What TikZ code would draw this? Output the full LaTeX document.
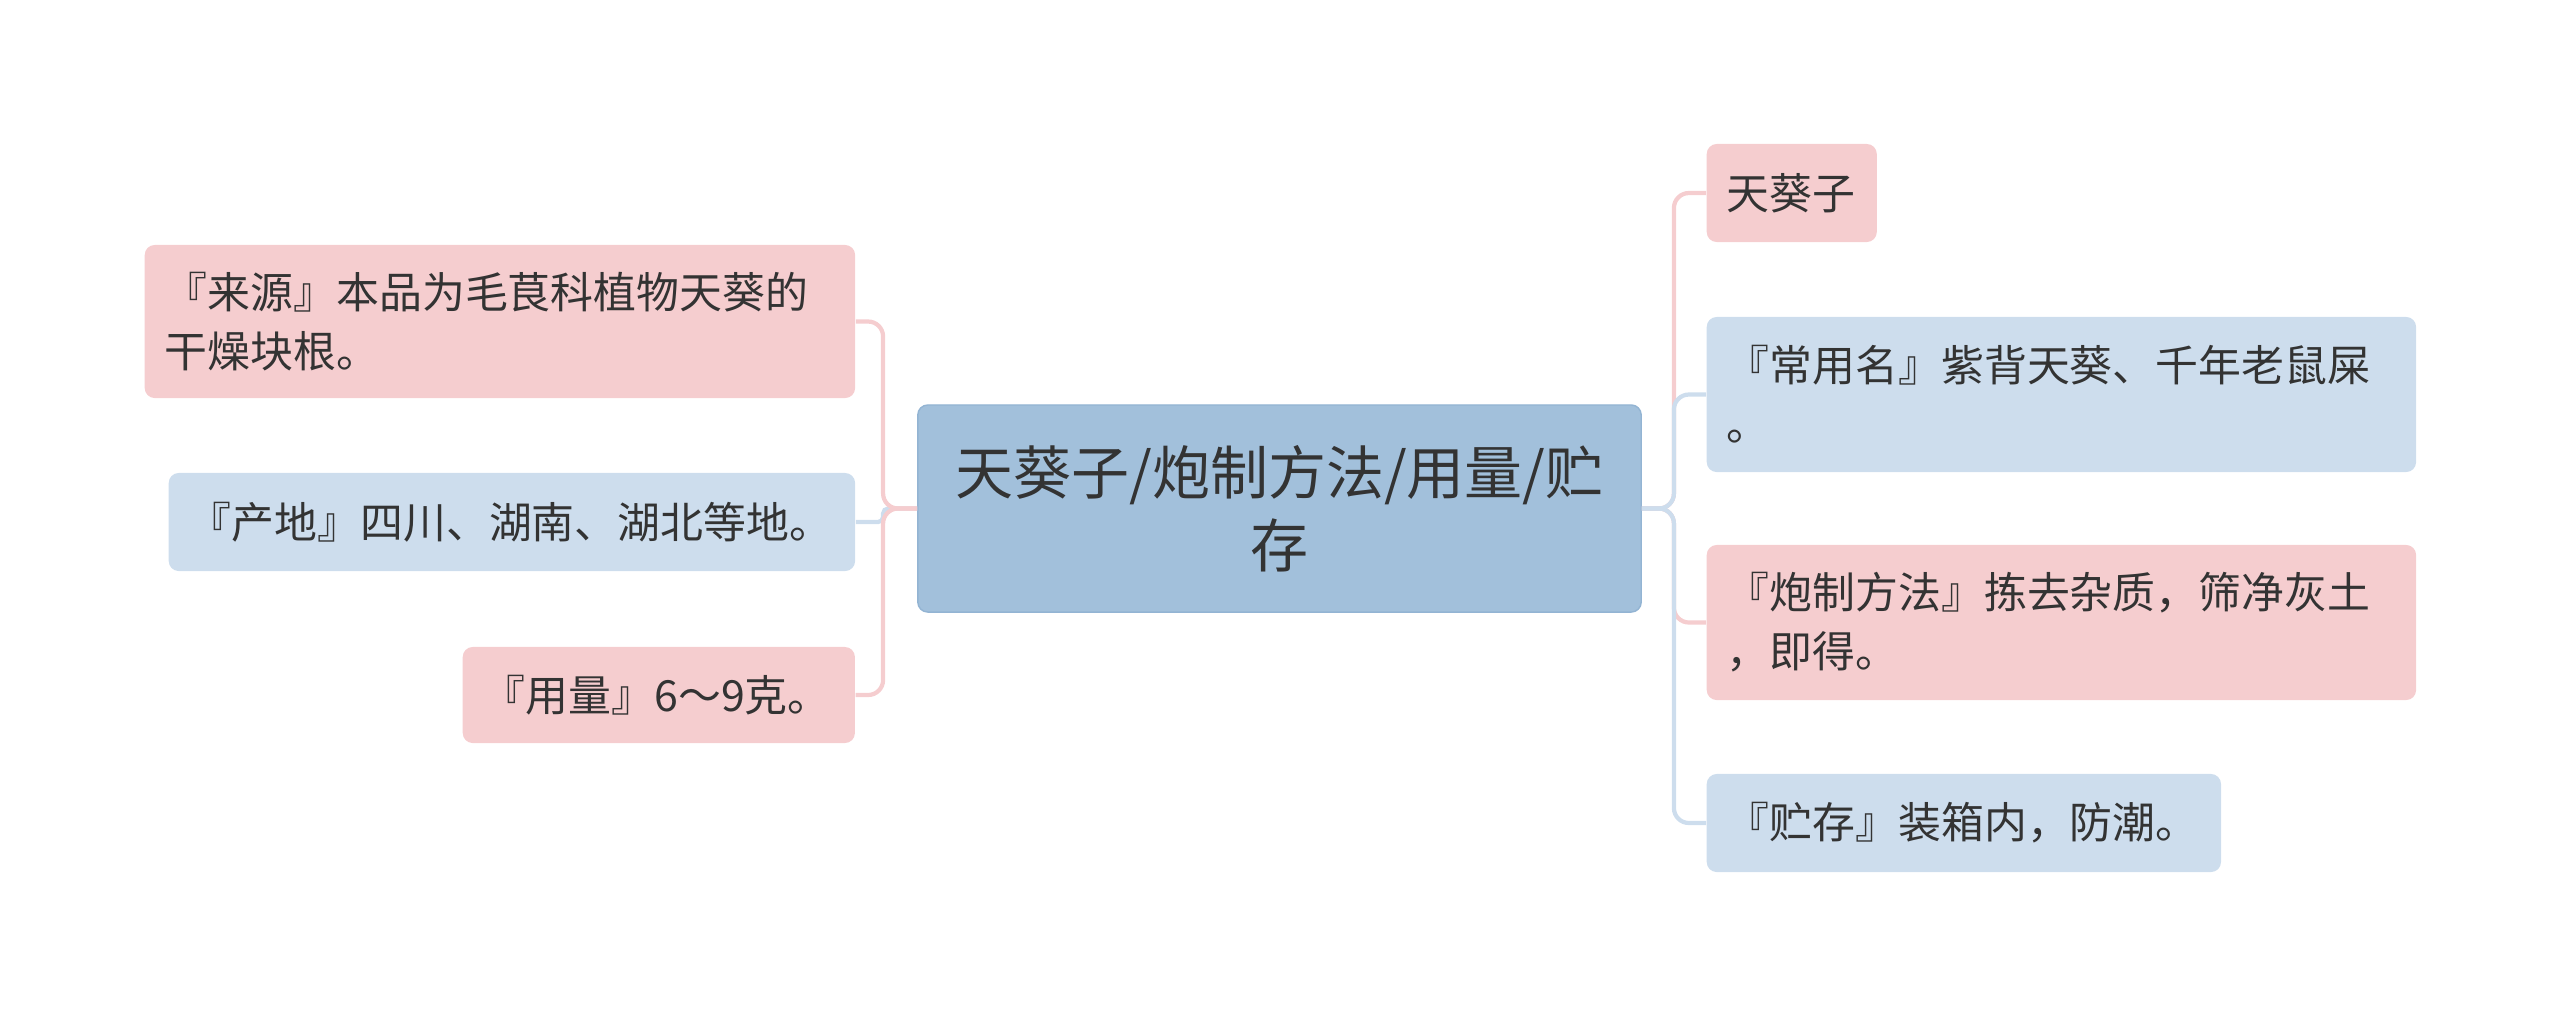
\documentclass[tikz,border=0pt]{standalone}
\usepackage{fontspec}
\setmainfont{Noto Sans CJK SC}
\usepackage{tikz}
\usetikzlibrary{positioning}
\definecolor{pinkfill}{HTML}{F5CDCF}
\definecolor{bluefill}{HTML}{CDDDED}
\definecolor{rootfill}{HTML}{A2C0DB}
\definecolor{rootdraw}{HTML}{93B4D3}
\definecolor{textgray}{HTML}{333333}

\begin{document}
\begin{tikzpicture}[
  x=0.01cm, y=-0.01cm,
  root/.style={draw=rootdraw, line width=0.4pt, fill=rootfill, rounded corners=0.1cm,
               align=center, text=textgray, inner sep=0pt,
               font=\fontsize{16.5}{20.8}\selectfont},
  leaf/.style={rounded corners=0.1cm, align=left, text=textgray,
               inner xsep=0.2cm, inner ysep=0pt, anchor=west,
               font=\fontsize{12.2}{16.8}\selectfont},
  pinkleaf/.style={leaf, fill=pinkfill},
  blueleaf/.style={leaf, fill=bluefill},
  pinkline/.style={draw=pinkfill, line width=1.2pt, rounded corners=0.15cm},
  blueline/.style={draw=bluefill, line width=1.2pt, rounded corners=0.15cm}
]
  \useasboundingbox (0,0) rectangle (2560,1017);

  \node[root, minimum width=7.23cm, minimum height=2.07cm, text width=6.9cm]
    (root) at (1279.5,508.5) {天葵子/炮制方法/用量/贮\\存};

  % left side
  \node[pinkleaf, text width=6.7cm, minimum height=1.53cm] (source) at (144,321.5)
    {『来源』本品为毛茛科植物天葵的\\干燥块根。};
  \node[blueleaf, text width=6.46cm, minimum height=0.98cm] (origin) at (168,522)
    {『产地』四川、湖南、湖北等地。};
  \node[pinkleaf, text width=3.52cm, minimum height=0.96cm] (dosage) at (462,695)
    {『用量』6～9克。};

  % right side
  \node[pinkleaf, text width=1.3cm, minimum height=0.98cm] (name) at (1706,193)
    {天葵子};
  \node[blueleaf, text width=6.69cm, minimum height=1.55cm] (alias) at (1706,394.5)
    {『常用名』紫背天葵、千年老鼠屎\\。};
  \node[pinkleaf, text width=6.69cm, minimum height=1.55cm] (process) at (1706,622.5)
    {『炮制方法』拣去杂质，筛净灰土\\，即得。};
  \node[blueleaf, text width=4.74cm, minimum height=0.98cm] (storage) at (1706,823)
    {『贮存』装箱内，防潮。};

  \begin{scope}[on background layer/.try]
  \draw[blueline, rounded corners=0.05cm] (root.west) -- ++(-34,0) |- (origin.east);
  \draw[pinkline] (root.west) -- ++(-34,0) |- (source.east);
  \draw[pinkline] (root.west) -- ++(-34,0) |- (dosage.east);
  \draw[pinkline] (root.east) -- ++(32,0) |- (name.west);
  \draw[pinkline] (root.east) -- ++(32,0) |- (process.west);
  \draw[blueline] (root.east) -- ++(32,0) |- (alias.west);
  \draw[blueline] (root.east) -- ++(32,0) |- (storage.west);
  \end{scope}
\end{tikzpicture}
\end{document}
